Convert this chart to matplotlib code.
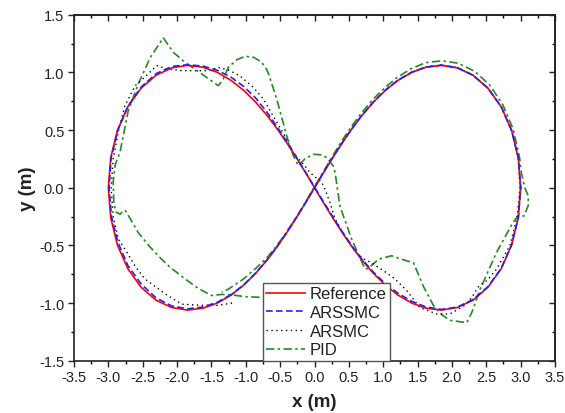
import matplotlib
matplotlib.use("Agg")
import matplotlib.pyplot as plt
from matplotlib.ticker import MultipleLocator

plt.rcParams['font.family'] = ['Liberation Sans', 'DejaVu Sans']

# --- trajectories (m) ---
ref_x = [3.000, 2.966, 2.868, 2.716, 2.524, 2.307, 2.078, 1.849, 1.626, 1.414, 1.215, 1.030, 0.857, 0.696, 0.545, 0.402, 0.264, 0.131, 0.000,
         -0.131, -0.264, -0.402, -0.545, -0.696, -0.857, -1.030, -1.215, -1.414, -1.626, -1.849, -2.078, -2.307, -2.524, -2.716, -2.868, -2.966, -3.000,
         -2.966, -2.868, -2.716, -2.524, -2.307, -2.078, -1.849, -1.626, -1.414, -1.215, -1.030, -0.857, -0.696, -0.545, -0.402, -0.264, -0.131, 0.000,
         0.131, 0.264, 0.402, 0.545, 0.696, 0.857, 1.030, 1.215, 1.414, 1.626, 1.849, 2.078, 2.307, 2.524, 2.716, 2.868, 2.966, 3.000]
ref_y = [0.000, 0.259, 0.498, 0.703, 0.863, 0.975, 1.039, 1.061, 1.045, 1.000, 0.931, 0.844, 0.742, 0.631, 0.512, 0.388, 0.260, 0.131, 0.000,
         -0.131, -0.260, -0.388, -0.512, -0.631, -0.742, -0.844, -0.931, -1.000, -1.045, -1.061, -1.039, -0.975, -0.863, -0.703, -0.498, -0.259, 0.000,
         0.259, 0.498, 0.703, 0.863, 0.975, 1.039, 1.061, 1.045, 1.000, 0.931, 0.844, 0.742, 0.631, 0.512, 0.388, 0.260, 0.131, 0.000,
         -0.131, -0.260, -0.388, -0.512, -0.631, -0.742, -0.844, -0.931, -1.000, -1.045, -1.061, -1.039, -0.975, -0.863, -0.703, -0.498, -0.259, 0.000]

arssmc_x = [-1.215, -1.414, -1.626, -1.849, -2.078, -2.307, -2.524, -2.716, -2.860, -2.955, -2.990,
            -2.960, -2.862, -2.712, -2.520, -2.302, -2.075, -1.849, -1.626, -1.414, -1.215, -1.030, -0.857, -0.696, -0.545, -0.402, -0.264, -0.131, 0.000,
            0.131, 0.264, 0.402, 0.545, 0.696, 0.857, 1.030, 1.215, 1.414, 1.626, 1.849, 2.078, 2.307, 2.524, 2.716, 2.868, 2.966, 3.000,
            2.966, 2.868, 2.716, 2.524, 2.307, 2.078, 1.849, 1.626, 1.414, 1.215, 1.030, 0.857, 0.696, 0.545, 0.402, 0.264, 0.131, 0.000,
            -0.131, -0.264, -0.402, -0.545, -0.696, -0.857, -1.030, -1.215]
arssmc_y = [-0.928, -0.993, -1.035, -1.050, -1.025, -0.955, -0.835, -0.675, -0.475, -0.250, 0.000,
            0.259, 0.500, 0.710, 0.875, 0.990, 1.052, 1.066, 1.055, 1.018, 0.958, 0.878, 0.778, 0.658, 0.528, 0.398, 0.266, 0.136, 0.005,
            -0.122, -0.250, -0.380, -0.505, -0.625, -0.732, -0.832, -0.915, -0.985, -1.035, -1.055, -1.035, -0.970, -0.858, -0.700, -0.496, -0.258, 0.000,
            0.259, 0.498, 0.703, 0.863, 0.976, 1.041, 1.063, 1.047, 1.002, 0.933, 0.846, 0.744, 0.633, 0.513, 0.389, 0.261, 0.132, 0.001,
            -0.130, -0.259, -0.386, -0.510, -0.629, -0.740, -0.842, -0.930]

arsmc_x = [-1.20, -1.40, -1.64, -1.93, -2.175, -2.47, -2.61, -2.73, -2.855, -2.93, -2.96,
           -2.93, -2.85, -2.76, -2.61, -2.42, -2.30, -2.15, -1.93, -1.74, -1.545, -1.40, -1.25, -1.085, -0.89, -0.745, -0.60, -0.45, -0.31,
           -0.14, -0.065, 0.105, 0.15, 0.225, 0.30, 0.44, 0.60, 0.72, 0.83, 1.03, 1.17, 1.34, 1.535, 1.78, 1.97, 2.19, 2.29, 2.385,
           2.52, 2.65, 2.845, 2.95, 2.99,
           2.966, 2.868, 2.716, 2.524, 2.307, 2.078, 1.849, 1.626, 1.414, 1.215, 1.030, 0.857, 0.696, 0.545, 0.402, 0.264, 0.131, 0.000,
           -0.131, -0.264, -0.402, -0.545, -0.696, -0.857, -1.030, -1.215]
arsmc_y = [-1.00, -1.02, -1.02, -1.01, -0.92, -0.79, -0.68, -0.56, -0.445, -0.25, 0.00,
           0.25, 0.50, 0.71, 0.885, 0.986, 1.06, 1.03, 1.015, 1.015, 1.015, 1.044, 1.02, 0.97, 0.87, 0.77, 0.62, 0.47, 0.30,
           0.19, 0.13, 0.047, -0.01, -0.13, -0.27, -0.42, -0.56, -0.62, -0.65, -0.73, -0.79, -0.89, -1.04, -1.095, -1.095, -1.02, -0.95, -0.86,
           -0.80, -0.705, -0.50, -0.25, 0.00,
           0.259, 0.498, 0.703, 0.863, 0.976, 1.042, 1.064, 1.048, 1.003, 0.933, 0.846, 0.743, 0.632, 0.512, 0.388, 0.260, 0.131, 0.000,
           -0.131, -0.260, -0.388, -0.512, -0.631, -0.742, -0.844, -0.931]

pid_x = [-0.80, -1.00, -1.20, -1.35, -1.50, -1.70, -1.885, -2.10, -2.225, -2.40, -2.565, -2.68, -2.757, -2.80, -2.83, -2.89, -2.92, -2.93, -2.90,
         -2.83, -2.71, -2.565, -2.39, -2.20, -2.055, -1.885, -1.64, -1.40, -1.33, -1.255, -1.13, -1.01, -0.88, -0.77, -0.70, -0.67,
         -0.55, -0.405, -0.31, -0.236, -0.14, -0.017, 0.10, 0.18, 0.27, 0.30, 0.37, 0.54, 0.735, 0.78, 0.856, 0.93, 1.12, 1.32,
         1.44, 1.58, 1.73, 1.85, 1.97, 2.215, 2.29, 2.41, 2.65, 2.89, 2.96, 3.05, 3.11, 3.11, 3.06, 3.01,
         2.985, 2.89, 2.74, 2.55, 2.33, 2.09, 1.85, 1.62, 1.40, 1.20, 1.01, 0.84, 0.68, 0.53, 0.39, 0.26, 0.13, 0.00,
         -0.131, -0.264, -0.402, -0.545, -0.696, -0.857, -1.03, -1.255, -1.35]
pid_y = [-0.95, -0.945, -0.93, -0.925, -0.935, -0.87, -0.79, -0.69, -0.62, -0.51, -0.39, -0.27, -0.194, -0.21, -0.23, -0.21, -0.13, 0.05, 0.20,
         0.31, 0.67, 0.90, 1.13, 1.30, 1.174, 1.088, 0.986, 0.885, 0.94, 1.044, 1.11, 1.14, 1.13, 1.088, 1.03, 0.99,
         0.77, 0.45, 0.28, 0.19, 0.25, 0.29, 0.285, 0.26, 0.19, 0.13, -0.16, -0.445, -0.705, -0.70, -0.66, -0.62, -0.59, -0.63,
         -0.65, -0.85, -1.02, -1.10, -1.15, -1.17, -1.08, -0.88, -0.56, -0.30, -0.245, -0.245, -0.155, -0.07, 0.00, 0.13,
         0.26, 0.51, 0.72, 0.89, 1.01, 1.08, 1.10, 1.085, 1.03, 0.955, 0.86, 0.76, 0.645, 0.525, 0.40, 0.27, 0.14, 0.01,
         -0.125, -0.255, -0.38, -0.50, -0.61, -0.70, -0.79, -0.88, -0.905]

fig = plt.figure(figsize=(5.65, 4.14), dpi=100)
ax = fig.add_axes([0.1310, 0.1263, 0.8513, 0.8357])

ax.plot(ref_x, ref_y, color='#ff0000', lw=1.2, label='Reference', zorder=4)
ax.plot(arssmc_x, arssmc_y, color='#2020ff', lw=1.2, linestyle=(0, (4, 2)), label='ARSSMC', zorder=5)
ax.plot(arsmc_x, arsmc_y, color='black', lw=1.0, linestyle=(0, (1, 2.5)), label='ARSMC', zorder=3)
ax.plot(pid_x, pid_y, color='#228b22', lw=1.2, linestyle=(0, (5, 2, 1.5, 2)), label='PID', zorder=2)

ax.set_xlim(-3.5, 3.5)
ax.set_ylim(-1.5, 1.5)
ax.xaxis.set_major_locator(MultipleLocator(0.5))
ax.xaxis.set_minor_locator(MultipleLocator(0.25))
ax.yaxis.set_major_locator(MultipleLocator(0.5))
ax.yaxis.set_minor_locator(MultipleLocator(0.25))
ax.xaxis.set_major_formatter(lambda v, p: f"{v:.1f}")
ax.yaxis.set_major_formatter(lambda v, p: f"{v:.1f}")

# outward ticks on bottom/left, inward mirrored ticks on top/right
ax.tick_params(which='major', direction='out', length=4, width=1.0, labelsize=10.5, colors='#222222', pad=3)
ax.tick_params(which='minor', direction='out', length=2.5, width=1.0)
for sp in ax.spines.values():
    sp.set_linewidth(1.2)
    sp.set_color('#222222')

top = ax.secondary_xaxis('top')
top.xaxis.set_major_locator(MultipleLocator(0.5))
top.xaxis.set_minor_locator(MultipleLocator(0.25))
top.tick_params(which='major', direction='in', length=4, width=1.0, labeltop=False, colors='#222222')
top.tick_params(which='minor', direction='in', length=2.5, width=1.0)
right = ax.secondary_yaxis('right')
right.yaxis.set_major_locator(MultipleLocator(0.5))
right.yaxis.set_minor_locator(MultipleLocator(0.25))
right.tick_params(which='major', direction='in', length=4, width=1.0, labelright=False, colors='#222222')
right.tick_params(which='minor', direction='in', length=2.5, width=1.0)
for sec in (top, right):
    for sp in sec.spines.values():
        sp.set_linewidth(1.2)
        sp.set_color('#222222')

ax.set_xlabel('x (m)', fontsize=13.5, fontweight='bold', color='#222222', labelpad=6)
ax.set_ylabel('y (m)', fontsize=13.5, fontweight='bold', color='#222222', labelpad=2)

leg = ax.legend(loc='lower left', bbox_to_anchor=(0.393, 0.0), borderaxespad=0,
                fontsize=12, handlelength=2.3, handletextpad=0.3, borderpad=0.2,
                labelspacing=0.22, fancybox=False, framealpha=1, edgecolor='#555555')
leg.get_frame().set_linewidth(1.0)
for t in leg.get_texts():
    t.set_color('#222222')

fig.savefig('out.png', dpi=100)
